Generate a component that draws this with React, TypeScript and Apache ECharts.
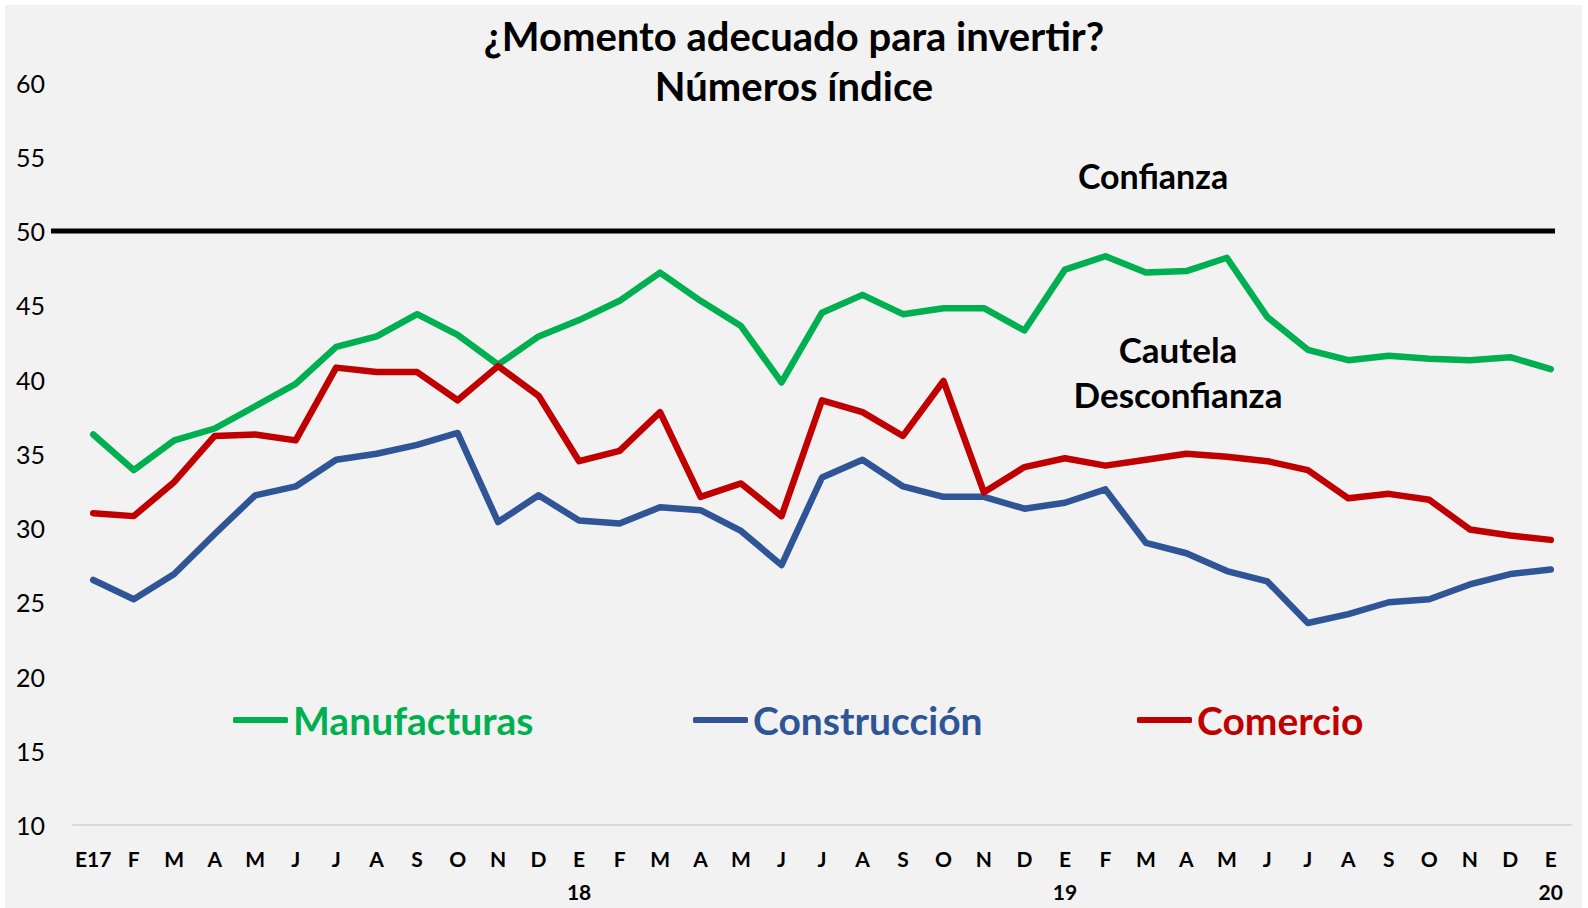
import React, { useEffect, useRef } from "react";
import * as echarts from "echarts";

const tickLabels = [
  "E17", "F", "M", "A", "M", "J", "J", "A", "S", "O", "N", "D",
  "E\n18", "F", "M", "A", "M", "J", "J", "A", "S", "O", "N", "D",
  "E\n19", "F", "M", "A", "M", "J", "J", "A", "S", "O", "N", "D",
  "E\n20",
];

const manufacturas = [
  36.3, 33.9, 35.9, 36.7, 38.2, 39.7, 42.2, 42.9, 44.4, 43.0, 41.0, 42.9,
  44.0, 45.3, 47.2, 45.3, 43.6, 39.8, 44.5, 45.7, 44.4, 44.8, 44.8, 43.3,
  47.4, 48.3, 47.2, 47.3, 48.2, 44.2, 42.0, 41.3, 41.6, 41.4, 41.3, 41.5,
  40.7,
];

const construccion = [
  26.5, 25.2, 26.9, 29.6, 32.2, 32.8, 34.6, 35.0, 35.6, 36.4, 30.4, 32.2,
  30.5, 30.3, 31.4, 31.2, 29.8, 27.5, 33.4, 34.6, 32.8, 32.1, 32.1, 31.3,
  31.7, 32.6, 29.0, 28.3, 27.1, 26.4, 23.6, 24.2, 25.0, 25.2, 26.2, 26.9,
  27.2,
];

const comercio = [
  31.0, 30.8, 33.1, 36.2, 36.3, 35.9, 40.8, 40.5, 40.5, 38.6, 40.9, 38.9,
  34.5, 35.2, 37.8, 32.1, 33.0, 30.8, 38.6, 37.8, 36.2, 39.9, 32.4, 34.1,
  34.7, 34.2, 34.6, 35.0, 34.8, 34.5, 33.9, 32.0, 32.3, 31.9, 29.9, 29.5,
  29.2,
];

const threshold = 50;

const seriesNames = ["Manufacturas", "Construcción", "Comercio"];
const seriesColors = ["#00B050", "#2F5597", "#C00000"];
const legendLefts = [228, 688, 1132];

const FONT = "Lato, 'Open Sans', 'Liberation Sans', sans-serif";

export default function App() {
  const ref = useRef<HTMLDivElement>(null);

  useEffect(() => {
    document.body.style.margin = "0";
    if (!ref.current) return;
    const chart = echarts.init(ref.current, null, { renderer: "svg" });
    const values = [manufacturas, construccion, comercio];

    const option: any = {
      animation: false,
      backgroundColor: "#FFFFFF",
      textStyle: { fontFamily: FONT },
      title: {
        text: "¿Momento adecuado para invertir?\nNúmeros índice",
        left: 789,
        top: 6,
        textAlign: "center",
        textStyle: {
          fontFamily: FONT,
          fontSize: 40,
          fontWeight: "bold",
          color: "#000",
          lineHeight: 50,
        },
      },
      grid: { left: 73, right: 17, top: 82.5, bottom: 83, containLabel: false },
      legend: seriesNames.map((n, i) => ({
        data: [n],
        left: legendLefts[i],
        top: 693,
        icon: "roundRect",
        itemWidth: 55,
        itemHeight: 6,
        textStyle: {
          fontFamily: FONT,
          fontSize: 39,
          fontWeight: "bold",
          color: seriesColors[i],
          lineHeight: 44,
        },
      })),
      xAxis: {
        type: "category",
        data: tickLabels,
        boundaryGap: true,
        axisTick: { show: false },
        axisLine: { lineStyle: { color: "#D9D9D9", width: 2 } },
        axisLabel: {
          interval: 0,
          fontFamily: FONT,
          fontSize: 21,
          fontWeight: "bold",
          color: "#000",
          lineHeight: 33,
          margin: 17,
        },
        splitLine: { show: false },
      },
      yAxis: {
        type: "value",
        min: 10,
        max: 60,
        interval: 5,
        axisLine: { show: false },
        axisTick: { show: false },
        splitLine: { show: false },
        axisLabel: {
          fontFamily: FONT,
          fontSize: 25,
          color: "#000",
          margin: 28,
        },
      },
      series: seriesNames.map((n, i) => ({
        name: n,
        type: "line",
        data: values[i],
        showSymbol: false,
        symbol: "none",
        smooth: false,
        color: seriesColors[i],
        lineStyle: { width: 6.5, color: seriesColors[i], cap: "round", join: "round" },
        z: 3 + i,
      })),
    };
    chart.setOption(option);

    const y50 = chart.convertToPixel({ yAxisIndex: 0 }, threshold) as number;
    const annot = (text: string, x: number, y: number, size: number) => ({
      type: "text",
      x,
      y,
      style: {
        text,
        fontFamily: FONT,
        fontSize: size,
        fontWeight: "bold",
        fill: "#000",
        textAlign: "center",
        textVerticalAlign: "middle",
      },
    });
    chart.setOption({
      graphic: [
        {
          type: "rect",
          shape: { x: 5, y: 5, width: 1577, height: 903 },
          style: { fill: "#F2F2F2" },
          z: -10,
          silent: true,
        },
        {
          type: "line",
          shape: { x1: 51, y1: y50, x2: 1555, y2: y50 },
          style: { stroke: "#000", lineWidth: 5 },
          z: 2,
        },
        annot("Confianza", 1153, 175, 34),
        annot("Cautela", 1178, 349, 35),
        annot("Desconfianza", 1178, 394, 35),
      ],
    });

    return () => chart.dispose();
  }, []);

  return <div ref={ref} style={{ width: 1588, height: 908 }} />;
}
